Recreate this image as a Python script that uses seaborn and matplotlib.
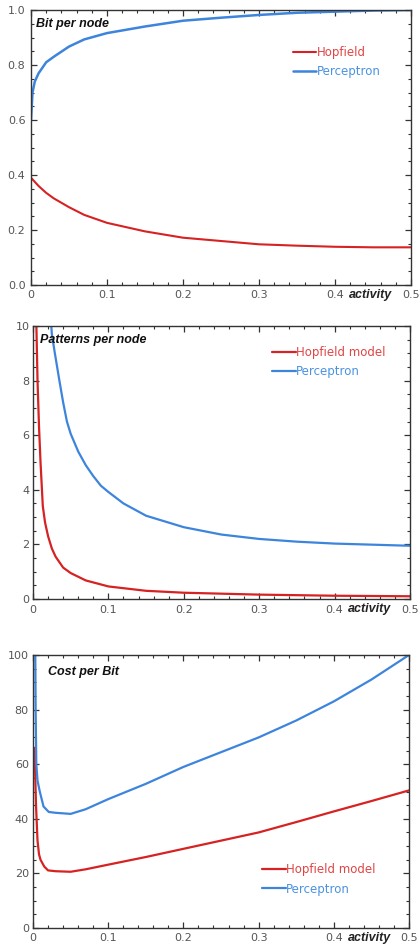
import numpy as np
import pandas as pd
import seaborn as sns
import matplotlib.pyplot as plt
from matplotlib.ticker import MultipleLocator

# Data
act_bit_hop = [0, 0.005, 0.01, 0.02, 0.03, 0.05, 0.07, 0.1, 0.15, 0.2, 0.25, 0.3, 0.35, 0.4, 0.45, 0.5]
bit_hop = [0.39, 0.375, 0.36, 0.335, 0.315, 0.283, 0.255, 0.226, 0.195, 0.172, 0.16, 0.148, 0.143, 0.139, 0.137, 0.137]
act_bit_perc = [0, 0.002, 0.005, 0.01, 0.02, 0.03, 0.05, 0.07, 0.1, 0.15, 0.2, 0.25, 0.3, 0.35, 0.4, 0.45, 0.5]
bit_perc = [0.60, 0.70, 0.74, 0.77, 0.81, 0.83, 0.867, 0.893, 0.916, 0.94, 0.961, 0.972, 0.982, 0.99, 0.994, 0.998, 1.0]

act_pat_hop = [0.0042, 0.0045, 0.006, 0.008, 0.01, 0.013, 0.016, 0.02, 0.025, 0.03, 0.04, 0.05, 0.07, 0.1,
               0.15, 0.2, 0.3, 0.4, 0.5]
pat_hop = [10.5, 10.0, 8.0, 6.3, 5.0, 3.4, 2.8, 2.3, 1.85, 1.55, 1.15, 0.95, 0.68, 0.46, 0.3, 0.23, 0.16, 0.12, 0.1]
act_pat_perc = [0.023, 0.025, 0.029, 0.035, 0.04, 0.045, 0.05, 0.06, 0.07, 0.08, 0.09, 0.1, 0.12, 0.15, 0.2,
                0.25, 0.3, 0.35, 0.4, 0.45, 0.5]
pat_perc = [10.5, 9.7, 9.0, 8.0, 7.2, 6.5, 6.05, 5.4, 4.9, 4.5, 4.15, 3.92, 3.5, 3.05, 2.63, 2.36, 2.2, 2.1,
            2.03, 1.99, 1.95]

act_cost_hop = [0.002, 0.004, 0.006, 0.008, 0.01, 0.015, 0.02, 0.03, 0.05, 0.07, 0.1, 0.15, 0.2, 0.25, 0.3,
                0.35, 0.4, 0.45, 0.5]
cost_hop = [66, 45, 32, 27, 25, 22.5, 21.1, 20.8, 20.6, 21.5, 23.2, 26, 29, 32, 35, 38.8, 42.7, 46.5, 50.4]
act_cost_perc = [0.003, 0.0035, 0.0044, 0.006, 0.009, 0.014, 0.021, 0.03, 0.05, 0.07, 0.1, 0.15, 0.2, 0.25,
                 0.3, 0.35, 0.4, 0.45, 0.5]
cost_perc = [102, 80, 60, 54, 50, 44.5, 42.5, 42.2, 41.8, 43.5, 47.2, 52.8, 59, 64.4, 69.8, 76, 83, 91, 100]

red = "#d62222"
blue = "#3d85dc"
red_txt = "#e04545"
blue_txt = "#4a92e2"

sns.set_style("ticks")
plt.rcParams["font.family"] = ["DejaVu Sans"]

fig = plt.figure(figsize=(4.2, 9.47), dpi=100)


def style_axes(ax, ymax, ymajor, yminor, ylabels, ypad, xpad):
    ax.set_xlim(0, 0.5)
    ax.set_ylim(0, ymax)
    ax.xaxis.set_major_locator(MultipleLocator(0.1))
    ax.xaxis.set_minor_locator(MultipleLocator(0.02))
    ax.yaxis.set_major_locator(MultipleLocator(ymajor))
    ax.yaxis.set_minor_locator(MultipleLocator(yminor))
    ax.set_xticks(np.arange(0, 0.51, 0.1))
    ax.set_xticklabels(["0", "0.1", "0.2", "0.3", "0.4", "0.5"])
    ax.set_yticks(np.arange(0, ymax + 1e-9, ymajor))
    ax.set_yticklabels(ylabels)
    ax.tick_params(which="both", direction="in", top=True, right=True, colors="#333333",
                   labelcolor="#555555", labelsize=8)
    ax.tick_params(axis="y", pad=ypad)
    ax.tick_params(axis="x", pad=xpad)
    ax.tick_params(which="major", length=4, width=0.9)
    ax.tick_params(which="minor", length=2.5, width=0.8)
    for s in ax.spines.values():
        s.set_visible(True)
        s.set_color("#333333")
        s.set_linewidth(1.0)
    ax.set_xlabel("")
    ax.set_ylabel("")
    ax.annotate("activity", xy=(0.447, 0), xycoords=("data", "axes fraction"), xytext=(0, -7.5),
                textcoords="offset points", ha="center", va="center", fontsize=9,
                fontweight="bold", fontstyle="italic", family="Liberation Sans", color="#222222")


def add_title(ax, x_px, y_px, text):
    w = ax.bbox.width
    h = ax.bbox.height
    ax.text(x_px / w, 1 - y_px / h, text, transform=ax.transAxes, va="center", ha="left",
            fontsize=9, fontweight="bold", fontstyle="italic", family="Liberation Sans", color="#111111")


def add_legend(ax, x, y):
    leg = ax.legend(loc="upper left", bbox_to_anchor=(x, y), frameon=False, borderpad=0,
                    handlelength=2.0, handletextpad=0.05, labelspacing=0.55, fontsize=8.5,
                    borderaxespad=0)
    for t, c in zip(leg.get_texts(), [red_txt, blue_txt]):
        t.set_color(c)


# Panel 1: bit per node
ax1 = fig.add_axes([31 / 420, 1 - 285 / 947, 380 / 420, 275 / 947])
sns.lineplot(x=act_bit_hop, y=bit_hop, ax=ax1, color=red, lw=1.5, label="Hopfield")
sns.lineplot(x=act_bit_perc, y=bit_perc, ax=ax1, color=blue, lw=1.8, label="Perceptron")
style_axes(ax1, 1.0, 0.2, 0.05, ["0.0", "0.2", "0.4", "0.6", "0.8", "1.0"], 4, 3.5)
add_title(ax1, 5, 14, "Bit per node")
add_legend(ax1, 0.689, 0.87)

# Panel 2: patterns per node
ax2 = fig.add_axes([33 / 420, 1 - 599 / 947, 377 / 420, 273 / 947])
sns.lineplot(x=act_pat_hop, y=pat_hop, ax=ax2, color=red, lw=1.6, label="Hopfield model")
sns.lineplot(x=act_pat_perc, y=pat_perc, ax=ax2, color=blue, lw=1.6, label="Perceptron")
style_axes(ax2, 10, 2, 0.5, ["0", "2", "4", "6", "8", "10"], 2.5, 4)
add_title(ax2, 7, 14, "Patterns per node")
add_legend(ax2, 0.634, 0.927)

# Panel 3: cost per bit
ax3 = fig.add_axes([33 / 420, 1 - 928 / 947, 376 / 420, 273 / 947])
sns.lineplot(x=act_cost_hop, y=cost_hop, ax=ax3, color=red, lw=1.6, label="Hopfield model")
sns.lineplot(x=act_cost_perc, y=cost_perc, ax=ax3, color=blue, lw=1.6, label="Perceptron")
style_axes(ax3, 100, 20, 5, ["0", "20", "40", "60", "80", "100"], 3, 3.5)
add_title(ax3, 15, 17, "Cost per Bit")
add_legend(ax3, 0.609, 0.238)

fig.savefig("out.png", dpi=100)
